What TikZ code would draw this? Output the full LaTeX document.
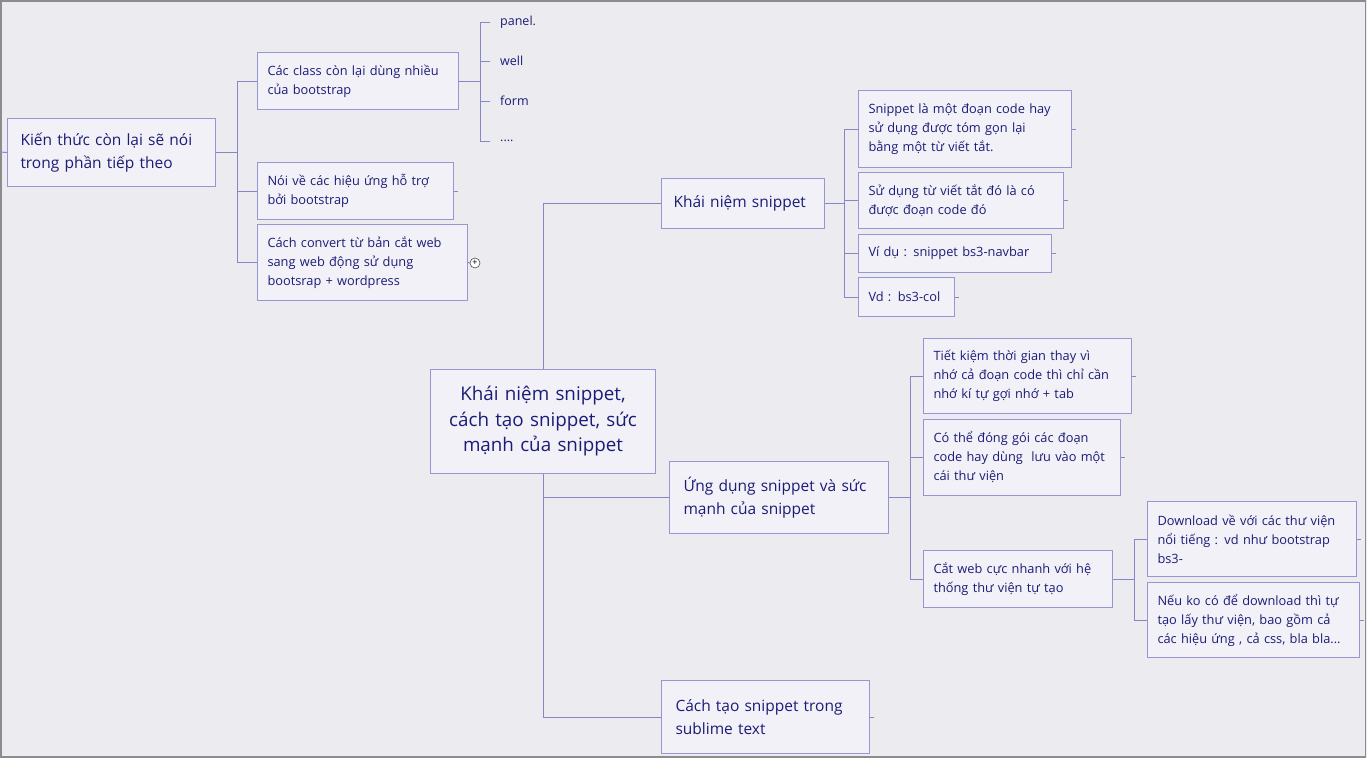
\documentclass[tikz,border=0pt]{standalone}
\usepackage{fontspec}
\setmainfont{Open Sans}
\definecolor{bg}{RGB}{235,235,240}
\definecolor{boxfill}{RGB}{241,241,247}
\definecolor{boxline}{RGB}{150,150,210}
\definecolor{wirec}{RGB}{135,135,200}
\definecolor{ink}{RGB}{28,28,120}
\definecolor{framec}{RGB}{140,140,140}
\begin{document}
\begin{tikzpicture}[x=1pt,y=-1pt,
  box/.style={draw=boxline, fill=boxfill, line width=1pt, anchor=north west,
    align=left, inner ysep=0pt, inner xsep=11pt, text=ink},
  small/.style={font=\fontsize{12.8}{19}\selectfont},
  mid/.style={font=\fontsize{15.5}{23}\selectfont},
  big/.style={font=\fontsize{18.8}{25.5}\selectfont},
  leaf/.style={anchor=west, inner xsep=10pt, inner ysep=2pt, text=ink, font=\fontsize{12.5}{14}\selectfont},
  wire/.style={draw=wirec, line width=1pt},
  plusc/.style={circle, draw=black!70, fill=white, line width=0.6pt, inner sep=0pt, minimum size=10pt, font=\fontsize{9}{9}\selectfont}
]
\useasboundingbox (0,0) rectangle (1367,758);
\fill[bg] (0,0) rectangle (1367,758);
\draw[framec, line width=1.5pt] (0.75,0.75) rectangle (1365.5,757);

% left group
\node[box, mid, inner xsep=13pt, minimum width=208pt, minimum height=68pt, text width=182pt] (kt) at (7,118)
  {Kiến thức còn lại sẽ nói\\trong phần tiếp theo};
\node[box, small, inner xsep=10pt, minimum width=201pt, minimum height=57pt, text width=181pt] (cc) at (257,52)
  {Các class còn lại dùng nhiều\\của bootstrap};
\node[box, small, inner xsep=10pt, minimum width=196pt, minimum height=57pt, text width=176pt] (nv) at (257,162)
  {Nói về các hiệu ứng hỗ trợ\\bởi bootstrap};
\node[box, small, inner xsep=10pt, minimum width=210pt, minimum height=76pt, text width=190pt] (cv) at (257,224)
  {Cách convert từ bản cắt web\\sang web động sử dụng\\bootsrap + wordpress};
\node[plusc] (plus) at (475,263) {+};

\node[leaf] (p1) at (490,22) {panel.};
\node[leaf] (p2) at (490,61) {well};
\node[leaf] (p3) at (490,101) {form};
\node[leaf] (p4) at (490,141) {....};

% central
\node[box, big, align=center, inner xsep=6pt, minimum width=225pt, minimum height=104pt, text width=213pt] (ctr) at (430,369)
  {Khái niệm snippet,\\cách tạo snippet, sức\\mạnh của snippet};

% Khai niem snippet group
\node[box, mid, inner xsep=12pt, minimum width=163pt, minimum height=50pt, text width=139pt] (kn) at (661,178)
  {Khái niệm snippet};
\node[box, small, inner xsep=10pt, minimum width=213pt, minimum height=77pt, text width=193pt] (s1) at (858,90)
  {Snippet là một đoạn code hay\\sử dụng được tóm gọn lại\\bằng một từ viết tắt.};
\node[box, small, inner xsep=10pt, minimum width=205pt, minimum height=56pt, text width=185pt] (s2) at (858,172)
  {Sử dụng từ viết tắt đó là có\\được đoạn code đó};
\node[box, small, inner xsep=10pt, minimum width=193pt, minimum height=38pt, text width=173pt] (s3) at (858,234)
  {Ví dụ : snippet bs3-navbar};
\node[box, small, inner xsep=10pt, minimum width=96pt, minimum height=39pt, text width=76pt] (s4) at (858,277)
  {Vd : bs3-col};

% Ung dung group
\node[box, mid, inner xsep=14pt, minimum width=219pt, minimum height=72pt, text width=191pt] (ud) at (669,461)
  {Ứng dụng snippet và sức\\mạnh của snippet};
\node[box, small, inner xsep=10pt, minimum width=208pt, minimum height=75pt, text width=188pt] (t1) at (923,338)
  {Tiết kiệm thời gian thay vì\\nhớ cả đoạn code thì chỉ cần\\nhớ kí tự gợi nhớ + tab};
\node[box, small, inner xsep=10pt, minimum width=197pt, minimum height=76pt, text width=177pt] (t2) at (923,419)
  {Có thể đóng gói các đoạn\\code hay dùng\ \ lưu vào một\\cái thư viện};
\node[box, small, inner xsep=10pt, minimum width=189pt, minimum height=57pt, text width=169pt] (t3) at (923,550)
  {Cắt web cực nhanh với hệ\\thống thư viện tự tạo};
\node[box, small, inner xsep=10pt, minimum width=209pt, minimum height=75pt, text width=189pt] (d1) at (1147,501)
  {Download về với các thư viện\\nổi tiếng : vd như bootstrap\\bs3-};
\node[box, small, inner xsep=10pt, minimum width=212pt, minimum height=75pt, text width=192pt] (d2) at (1147,582)
  {Nếu ko có để download thì tự\\tạo lấy thư viện, bao gồm cả\\các hiệu ứng , cả css, bla bla...};

% Cach tao
\node[box, mid, inner xsep=14pt, minimum width=208pt, minimum height=73pt, text width=180pt] (ct) at (661,680)
  {Cách tạo snippet trong\\sublime text};

% connectors
\coordinate (lstub) at (0,152);
\draw[wire] (lstub) -- (kt.west);
\draw[wire] (kt.east) -- ++(21,0) coordinate (j1);
\draw[wire] (j1) |- (cc.west);
\draw[wire] (j1) |- (nv.west);
\draw[wire] (j1) |- (cv.west);
\draw[wire] (cc.east) -- ++(21,0) coordinate (j2);
\draw[wire] (j2) |- (p1.west);
\draw[wire] (j2) |- (p2.west);
\draw[wire] (j2) |- (p3.west);
\draw[wire] (j2) |- (p4.west);
\draw[wire] (cv.east) -- (plus.west);
\draw[wire] (nv.east) -- ++(4,0);

\draw[wire] (ctr.north) |- (kn.west);
\draw[wire] (ctr.south) |- (ud.west);
\draw[wire] (ctr.south) |- (ct.west);
\draw[wire] (ct.east) -- ++(4,0);

\draw[wire] (kn.east) -- ++(19,0) coordinate (j3);
\draw[wire] (j3) |- (s1.west);
\draw[wire] (j3) |- (s2.west);
\draw[wire] (j3) |- (s3.west);
\draw[wire] (j3) |- (s4.west);
\foreach \n in {s1,s2,s3,s4,t1,t2,d1,d2} \draw[wire] (\n.east) -- ++(4,0);

\draw[wire] (ud.east) -- ++(21,0) coordinate (j4);
\draw[wire] (j4) |- (t1.west);
\draw[wire] (j4) |- (t2.west);
\draw[wire] (j4) |- (t3.west);
\draw[wire] (t3.east) -- ++(21,0) coordinate (j5);
\draw[wire] (j5) |- (d1.west);
\draw[wire] (j5) |- (d2.west);
\end{tikzpicture}
\end{document}
